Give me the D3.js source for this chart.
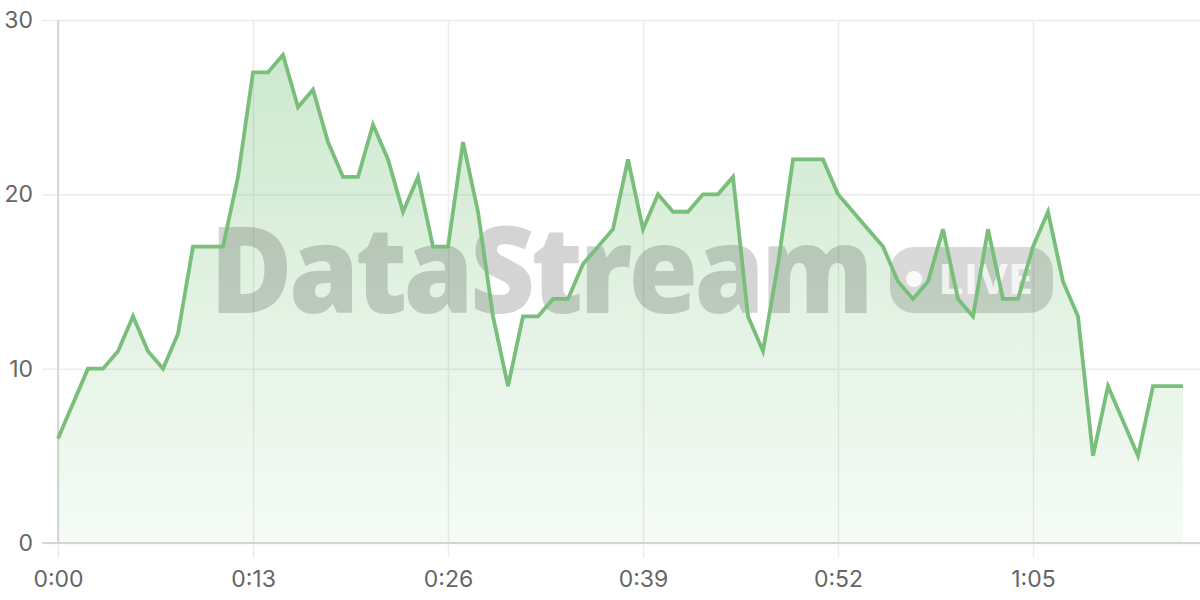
<!DOCTYPE html>
<html>
<head>
<meta charset="utf-8">
<script src="https://cdn.jsdelivr.net/npm/d3@7"></script>
<style>
  body { margin: 0; background: #fff; }
  svg { display: block; }
</style>
</head>
<body>
<svg id="chart" width="1200" height="600"></svg>
<script>
// seconds since start, one sample per second
const seconds = d3.range(0, 76);
const viewers = [
    6, 8, 10, 10, 11, 13, 11, 10, 12, 17,
    17, 17, 21, 27, 27, 28, 25, 26, 23, 21,
    21, 24, 22, 19, 21, 17, 17, 23, 19, 13,
    9, 13, 13, 14, 14, 16, 17, 18, 22, 18,
    20, 19, 19, 20, 20, 21, 13, 11, 16, 22,
    22, 22, 20, 19, 18, 17, 15, 14, 15, 18,
    14, 13, 18, 14, 14, 17, 19, 15, 13, 5,
    9, 7, 5, 9, 9, 9
];
const xTicks = [0, 13, 26, 39, 52, 65];
const xTickLabels = ["0:00", "0:13", "0:26", "0:39", "0:52", "1:05"];
const yTicks = [0, 10, 20, 30];

const data = seconds.map((s, i) => ({ s: s, v: viewers[i] }));

const svg = d3.select("#chart");
const width = 1200;

const x = d3.scaleLinear().domain([0, 75]).range([58, 1183]);
const y = d3.scaleLinear().domain([0, 30]).range([543, 20]);

const defs = svg.append("defs");
const grad = defs.append("linearGradient")
    .attr("id", "areaFill")
    .attr("x1", 0).attr("x2", 0)
    .attr("y1", 0).attr("y2", 1);
grad.append("stop").attr("offset", "0%")
    .attr("stop-color", "#4caf50").attr("stop-opacity", 0.28);
grad.append("stop").attr("offset", "100%")
    .attr("stop-color", "#4caf50").attr("stop-opacity", 0.05);

// grid
const yAxis = svg.append("g")
    .attr("transform", "translate(58,0)")
    .call(d3.axisLeft(y).tickValues(yTicks).tickSize(16).tickPadding(9));
yAxis.select(".domain").remove();
yAxis.selectAll(".tick line")
    .clone()
    .attr("x1", 0)
    .attr("x2", width - 58);
yAxis.selectAll(".tick line").attr("stroke", "#ececec").attr("stroke-width", 1.5);

const xAxis = svg.append("g")
    .attr("transform", "translate(0,543)")
    .call(d3.axisBottom(x).tickValues(xTicks)
          .tickFormat((d, i) => xTickLabels[i])
          .tickSize(15).tickPadding(13));
xAxis.select(".domain").remove();
xAxis.selectAll(".tick line")
    .clone()
    .attr("y1", 0)
    .attr("y2", y(30) - 543);
xAxis.selectAll(".tick line").attr("stroke", "#ececec").attr("stroke-width", 1.5);

svg.selectAll(".tick text")
    .attr("fill", "#666")
    .style("font", "23px Inter, 'Noto Sans', sans-serif");

// axis lines
svg.append("line")
    .attr("x1", 58).attr("x2", 58)
    .attr("y1", y(30)).attr("y2", 543)
    .attr("stroke", "#d6d6d6").attr("stroke-width", 2);
svg.append("line")
    .attr("x1", 42).attr("x2", width)
    .attr("y1", 543).attr("y2", 543)
    .attr("stroke", "#d6d6d6").attr("stroke-width", 2);

// area
const area = d3.area()
    .x(d => x(d.s))
    .y0(y(0))
    .y1(d => y(d.v));
svg.append("path")
    .datum(data)
    .attr("fill", "url(#areaFill)")
    .attr("d", area);

// watermark
const wm = svg.append("g").attr("pointer-events", "none");
wm.append("text")
    .attr("x", 210).attr("y", 313)
    .attr("textLength", 660)
    .attr("lengthAdjust", "spacingAndGlyphs")
    .attr("fill", "#000").attr("fill-opacity", 0.17)
    .style("font", "800 120px 'Open Sans', 'Noto Sans', sans-serif")
    .style("letter-spacing", "-4px")
    .text("DataStream");
wm.append("rect")
    .attr("x", 890).attr("y", 247)
    .attr("width", 163).attr("height", 66)
    .attr("rx", 24)
    .attr("fill", "#000").attr("fill-opacity", 0.15);
wm.append("circle")
    .attr("cx", 914).attr("cy", 279).attr("r", 8)
    .attr("fill", "#fff").attr("fill-opacity", 0.85);
wm.append("text")
    .attr("x", 938).attr("y", 294)
    .attr("textLength", 95)
    .attr("lengthAdjust", "spacingAndGlyphs")
    .attr("fill", "#fff").attr("fill-opacity", 0.75)
    .style("font", "bold 42px 'Open Sans', 'Noto Sans', sans-serif")
    .text("LIVE");

// line
const line = d3.line()
    .x(d => x(d.s))
    .y(d => y(d.v));
svg.append("path")
    .datum(data)
    .attr("fill", "none")
    .attr("stroke", "#79bf7b")
    .attr("stroke-width", 3.8)
    .attr("d", line);
</script>
</body>
</html>
